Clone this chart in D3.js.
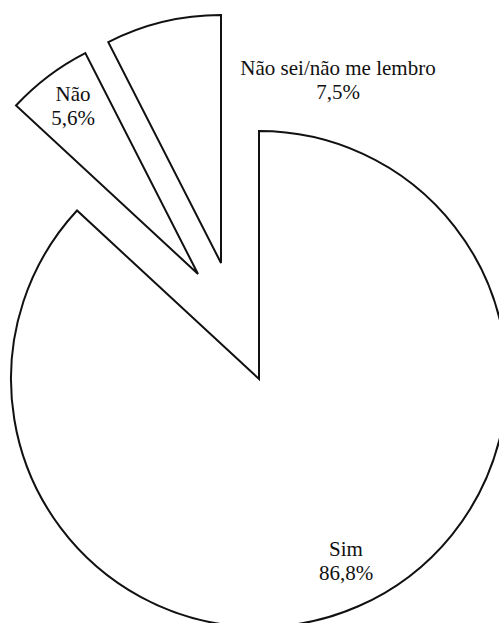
<!DOCTYPE html>
<html>
<head>
<meta charset="utf-8">
<script src="https://cdn.jsdelivr.net/npm/d3@7"></script>
</head>
<body style="margin:0">
<svg id="chart" width="499" height="623" font-family="Liberation Serif" font-size="21"></svg>
<script>
// Data
const categories = ["Sim", "Não", "Não sei/não me lembro"];
const values = [86.8, 5.6, 7.5];
const valueLabels = ["86,8%", "5,6%", "7,5%"];

// Layout (not data)
const cx = 259, cy = 379, R = 248;
const explode = [[0, 0], [-61, -105], [-38, -116]];
const labelPos = [[346, 556], [73, 101], [338, 75]];
const lineGap = 24;

const svg = d3.select("#chart");
const g = svg.append("g").attr("transform", `translate(${cx},${cy})`);

const pie = d3.pie().sort(null).value(d => d).startAngle(0).endAngle(2 * Math.PI);
const arc = d3.arc().innerRadius(0).outerRadius(R);
const arcs = pie(values);

g.selectAll("path.slice")
  .data(arcs)
  .join("path")
  .attr("class", "slice")
  .attr("transform", (d, i) => `translate(${explode[i][0]},${explode[i][1]})`)
  .attr("d", arc)
  .attr("fill", "#fff")
  .attr("stroke", "#111")
  .attr("stroke-width", 2)
  .attr("stroke-linejoin", "miter");

svg.selectAll("text.cat")
  .data(categories)
  .join("text")
  .attr("class", "cat")
  .attr("x", (d, i) => labelPos[i][0])
  .attr("y", (d, i) => labelPos[i][1])
  .attr("text-anchor", "middle")
  .style("font-family", "'Liberation Serif'")
  .style("font-size", "21px")
  .attr("fill", "#111")
  .text(d => d);

svg.selectAll("text.val")
  .data(valueLabels)
  .join("text")
  .attr("class", "val")
  .attr("x", (d, i) => labelPos[i][0])
  .attr("y", (d, i) => labelPos[i][1] + lineGap)
  .attr("text-anchor", "middle")
  .style("font-family", "'Liberation Serif'")
  .style("font-size", "21px")
  .attr("fill", "#111")
  .text(d => d);
</script>
</body>
</html>
